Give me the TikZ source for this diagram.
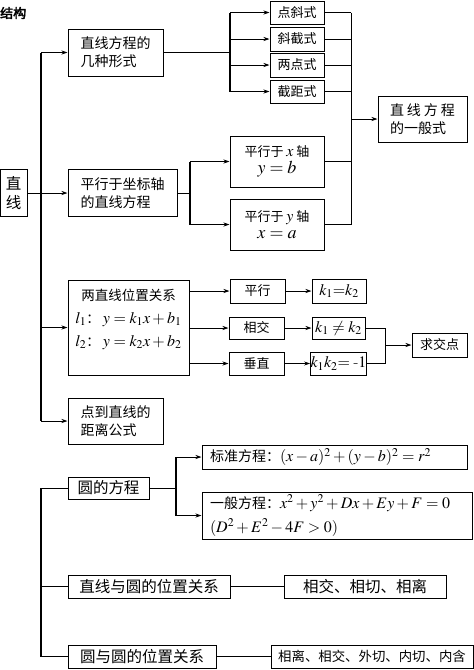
\documentclass[tikz,border=0pt]{standalone}
\usepackage{mathptmx}
\usepackage[no-math]{fontspec}
\newfontfamily\cjk[AutoFakeBold=3]{Noto Sans CJK SC}
\usetikzlibrary{arrows.meta}

\tikzset{
  size/.style 2 args={minimum width=#1pt, minimum height=#2pt},
  box/.style={draw, line width=1pt, inner sep=2pt, align=center,
              font=\cjk\fontsize{14}{18}\selectfont},
  smallbox/.style={box, font=\cjk\fontsize{13}{17}\selectfont},
  bigbox/.style={box, font=\cjk\fontsize{15.5}{19}\selectfont},
  link/.style={line width=0.8pt},
  bus/.style={line width=1.1pt},
  trunk/.style={line width=1.6pt},
  arr/.style={link, -{Stealth[length=6pt,width=4pt]}},
}
\newcommand{\mathmid}[1]{{\fontsize{16}{18}\selectfont$#1$}}
\newcommand{\mathbig}[1]{{\fontsize{18}{20}\selectfont$#1$}}

\begin{document}
\begin{tikzpicture}[x=1pt,y=-1pt]
\useasboundingbox (0,0) rectangle (474,670);

% title
\node[anchor=west, inner sep=0pt, font=\cjk\bfseries\fontsize{13}{13}\selectfont] (title) at (0,13) {结构};

% straight lines
\node[bigbox, size={27}{47}, inner sep=0pt] (line) at (13.5,193) {直\\线};
\node[box, size={95}{47}, align=left] (forms) at (115.5,52.5) {直线方程的\\几种形式};
\node[smallbox, size={54}{23}] (ps) at (297,12.5) {点斜式};
\node[smallbox, size={54}{24}] (xj) at (297,39) {斜截式};
\node[smallbox, size={54}{24}] (ld) at (297,65) {两点式};
\node[smallbox, size={54}{23}] (jj) at (297,91.5) {截距式};
\node[box, size={89}{46}, align=left] (gen) at (422.5,119)
  {直\hspace{3pt}线\hspace{3pt}方\hspace{3pt}程\\的一般式};
\node[box, size={109}{47}, align=left] (axis) at (122.5,193) {平行于坐标轴\\的直线方程};
\node[smallbox, size={94}{51}] (pxa) at (277,161.5) {平行于 \mathmid{x} 轴\\\mathbig{y=b}};
\node[smallbox, size={94}{51}] (pya) at (277,224.5) {平行于 \mathmid{y} 轴\\\mathbig{x=a}};

% two lines
\node[box, size={121}{95},
  label={[anchor=north, yshift=-6pt, align=center, font=\cjk\fontsize{13.5}{23}\selectfont]north:
    两直线位置关系\\\mathmid{l_1}：\ \mathmid{y=k_1x+b_1}\\\mathmid{l_2}：\ \mathmid{y=k_2x+b_2}}]
  (rel) at (128.5,327.5) {};
\node[smallbox, size={55}{24}] (pxl) at (257.5,291) {平行};
\node[smallbox, size={55}{22}] (xjl) at (256.5,328) {相交};
\node[smallbox, size={55}{23}] (czl) at (256.5,363.5) {垂直};
\node[smallbox, size={54}{24}] (keq) at (339,291) {\mathmid{k_1{=}k_2}};
\node[smallbox, size={53}{22}] (kne) at (338.5,328) {\mathmid{k_1\neq k_2}};
\node[smallbox, size={55}{23}, inner sep=0pt] (kprod) at (338.5,363.5) {\mathmid{k_1k_2{=}\;\mbox{\rmfamily -}1}};
\node[smallbox, size={55}{24}] (jd) at (439.5,345) {求交点};
\node[box, size={95}{46}, align=left] (dist) at (115.5,421) {点到直线的\\距离公式};

% circles
\node[bigbox, size={81}{22}] (circ) at (108.5,488) {圆的方程};
\node[box, size={265}{24}, align=left, text width=249pt] (std) at (334.5,457)
  {标准方程：\mathmid{(x-a)^2+(y-b)^2=r^2}};
\node[box, size={270}{47}, align=left, text width=254pt, font=\cjk\fontsize{14}{24}\selectfont] (gnl) at (337,515.5)
  {一般方程：\mathmid{x^2+y^2+Dx+Ey+F=0}\\\mathmid{(D^2+E^2-4F>0)}};
\node[bigbox, size={162}{23}] (lc) at (149,586.5) {直线与圆的位置关系};
\node[bigbox, size={162}{23}] (lcr) at (365,586.5) {相交、相切、相离};
\node[bigbox, size={148}{23}] (cc) at (142,656.5) {圆与圆的位置关系};
\node[box, size={202}{23}, font=\cjk\fontsize{13.4}{17}\selectfont] (ccr) at (372,656.5) {相离、相交、外切、内切、内含};

% trunk of the line part
\coordinate (tA) at (41,0);
\draw[trunk] (tA |- forms.west) -- (tA |- dist.west);
\draw[arr] (tA |- forms.west) -- (forms.west);
\draw[arr] (line.east) -- (axis.west);
\draw[arr] (tA |- rel.west) -- (rel.west);
\draw[arr] (tA |- dist.west) -- (dist.west);

% four forms
\coordinate (bA) at (230,0);
\draw[link] (forms.east) -- (forms.east -| bA);
\draw[bus] (bA |- ps.west) -- (bA |- jj.west);
\foreach \n in {ps,xj,ld,jj}
  \draw[arr] (bA |- \n.west) -- (\n.west);

% parallel to the axes
\coordinate (bC) at (190,0);
\draw[link] (axis.east) -- (axis.east -| bC);
\draw[bus] (bC |- pxa.west) -- (bC |- pya.west);
\foreach \n in {pxa,pya}
  \draw[arr] (bC |- \n.west) -- (\n.west);

% to the general form
\coordinate (bB) at (351,0);
\draw[link] (bB |- ps.east) -- (bB |- pya.east);
\foreach \n in {ps,xj,ld,jj,pxa,pya}
  \draw[link] (\n.east) -- (\n.east -| bB);
\draw[arr] (bB |- gen.west) -- (gen.west);

% positions of two lines
\foreach \a/\b in {pxl/keq,xjl/kne,czl/kprod} {
  \draw[arr] (rel.east |- \a.west) -- (\a.west);
  \draw[arr] (\a.east) -- (\b.west);
}
\coordinate (bD) at (385,0);
\draw[link] (kne.east) -- (kne.east -| bD) -- (kprod.east -| bD) -- (kprod.east);
\draw[arr] (bD |- jd.west) -- (jd.west);

% trunk of the circle part
\coordinate (tB) at (41,0);
\draw[trunk] (tB |- circ.west) -- (tB |- cc.west);
\foreach \n in {circ,lc,cc}
  \draw[link] (tB |- \n.west) -- (\n.west);
\coordinate (bE) at (176,0);
\draw[link] (circ.east) -- (circ.east -| bE);
\draw[bus] (bE |- std.west) -- (bE |- gnl.west);
\foreach \n in {std,gnl}
  \draw[arr] (bE |- \n.west) -- (\n.west);
\draw[link] (lc.east) -- (lcr.west);
\draw[link] (cc.east) -- (ccr.west);
\end{tikzpicture}
\end{document}
